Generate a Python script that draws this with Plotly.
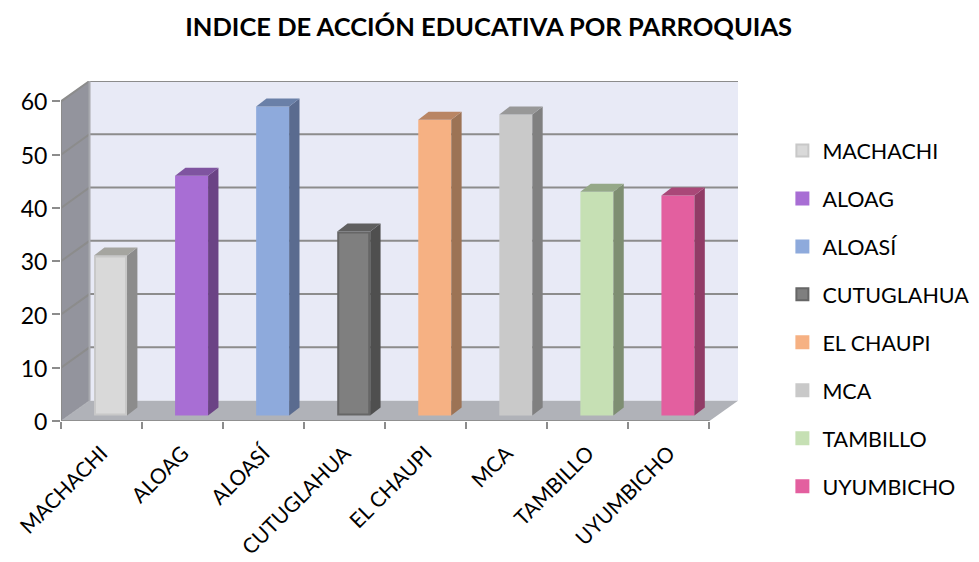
import plotly.graph_objects as go

categories = ['MACHACHI', 'ALOAG', 'ALOASÍ', 'CUTUGLAHUA', 'EL CHAUPI', 'MCA', 'TAMBILLO', 'UYUMBICHO']
values = [30, 45, 58, 34.5, 55.5, 56.5, 42, 41.3]
y_ticks = [0, 10, 20, 30, 40, 50, 60]

front_colors = ['#d9d9d9', '#a86ed4', '#8eaadc', '#7f7f7f', '#f6b183', '#c9c9c9', '#c6e0b4', '#e35f9f']
side_colors = ['#8c8c8c', '#6b4385', '#5a6b8f', '#4f4f4f', '#9c7355', '#808080', '#7e8e72', '#913c66']
top_colors = ['#a5a5a0', '#7f54a0', '#6a80a8', '#5f5f5f', '#b98563', '#989898', '#95a888', '#a94878']
edge_colors = ['#c8c8c8', '#a86ed4', '#8eaadc', '#666666', '#f6b183', '#c9c9c9', '#c6e0b4', '#e35f9f']

FONT = 'Lato'
WALL_DX = 0.352   # depth of the box, in axis units
WALL_DY = 3.82
BAR_SHIFT = 0.111
BAR_LIFT = 1.05
BAR_W = 0.407
BAR_DX = 0.128
BAR_DY = 1.5
EDGE = 2          # bar outline width in px, also fattens the legend swatch
EDGE_X = EDGE / 81
EDGE_Y = EDGE / 5.31

n = len(categories)
fig = go.Figure()

shapes = []


def poly(xs, ys, fill, line='rgba(0,0,0,0)', width=0):
    path = 'M' + 'L'.join(f'{x},{y}' for x, y in zip(xs, ys)) + 'Z'
    return dict(type='path', path=path, xref='x', yref='y', fillcolor=fill, layer='below',
                line=dict(color=line, width=width))


def seg(xs, ys, color='#8c8c8c', width=2):
    path = 'M' + 'L'.join(f'{x},{y}' for x, y in zip(xs, ys))
    return dict(type='path', path=path, xref='x', yref='y', layer='below',
                line=dict(color=color, width=width))


top = 60 + WALL_DY
shapes.append(poly([WALL_DX, n + WALL_DX, n + WALL_DX, WALL_DX], [WALL_DY, WALL_DY, top, top], '#e8eaf6'))
shapes.append(poly([0, WALL_DX, WALL_DX, 0], [0, WALL_DY, top, 60], '#93949d', '#a9aab0', 1))
shapes.append(poly([0, n, n + WALL_DX, WALL_DX], [0, 0, WALL_DY, WALL_DY], '#b0b2b8'))
for t in y_ticks[1:]:
    shapes.append(seg([0, WALL_DX, n + WALL_DX], [t, t + WALL_DY, t + WALL_DY]))
shapes.append(seg([WALL_DX, WALL_DX], [WALL_DY, top], '#a9aab0', 2))
shapes.append(seg([0, n], [0, 0], '#909090', 2))
shapes.append(seg([0, 0], [0, 60], '#8c8c8c', 2))

for i, name in enumerate(categories):
    left = i + 0.5 + BAR_SHIFT - BAR_W / 2
    right = left + BAR_W
    fig.add_trace(go.Bar(
        x=[i + 0.5 + BAR_SHIFT], y=[values[i] - EDGE_Y], base=[BAR_LIFT + EDGE_Y / 2],
        width=BAR_W - EDGE_X, name=name, legendgroup=name,
        marker=dict(color=front_colors[i], line=dict(color=edge_colors[i], width=EDGE)),
    ))
    h = values[i] + BAR_LIFT
    # right side and top of the block
    fig.add_trace(go.Scatter(
        x=[right, right + BAR_DX, right + BAR_DX, right, right],
        y=[BAR_LIFT, BAR_LIFT + BAR_DY, h + BAR_DY, h, BAR_LIFT],
        mode='lines', fill='toself', fillcolor=side_colors[i], line=dict(width=0),
        showlegend=False, hoverinfo='skip',
    ))
    fig.add_trace(go.Scatter(
        x=[left, right, right + BAR_DX, left + BAR_DX, left],
        y=[h, h, h + BAR_DY, h + BAR_DY, h],
        mode='lines', fill='toself', fillcolor=top_colors[i], line=dict(width=0),
        showlegend=False, hoverinfo='skip',
    ))

# the page body adds 8px around the figure, margins are set to allow for it
fig.update_layout(
    width=979,
    height=562,
    margin=dict(l=53, r=249, t=73, b=149),
    paper_bgcolor='white',
    plot_bgcolor='white',
    font=dict(family=FONT, size=21, color='black'),
    title=dict(text='<b>INDICE DE ACCIÓN EDUCATIVA POR PARROQUIAS</b>',
               x=0.491, xanchor='center', y=0.9665, yanchor='middle',
               font=dict(family=FONT, size=25.5, color='black')),
    barmode='overlay',
    shapes=shapes,
    xaxis=dict(
        automargin=False,
        range=[0, n + WALL_DX], showgrid=False, zeroline=False,
        tickmode='array', tickvals=[i + 0.5 for i in range(n)], ticktext=categories,
        ticks='', tickangle=-45, ticklabelstandoff=15,
        minor=dict(tickmode='array', tickvals=list(range(n + 1)), ticks='outside', ticklen=7,
                   tickcolor='#8c8c8c', tickwidth=1.5, showgrid=False),
    ),
    yaxis=dict(
        automargin=False,
        range=[0, top], showgrid=False, zeroline=False,
        tickmode='array', tickvals=y_ticks, tickfont=dict(size=23), ticklabelshift=1,
        ticks='outside', ticklen=8, tickcolor='#8c8c8c', tickwidth=1.5,
    ),
    legend=dict(xref='container', yref='container', x=0.791, xanchor='left', y=0.4475, yanchor='middle',
                traceorder='grouped', tracegroupgap=17, itemwidth=30, maxheight=0.95,
                font=dict(family=FONT, size=21.5), bgcolor='rgba(0,0,0,0)'),
)

fig.write_html("out.html")
